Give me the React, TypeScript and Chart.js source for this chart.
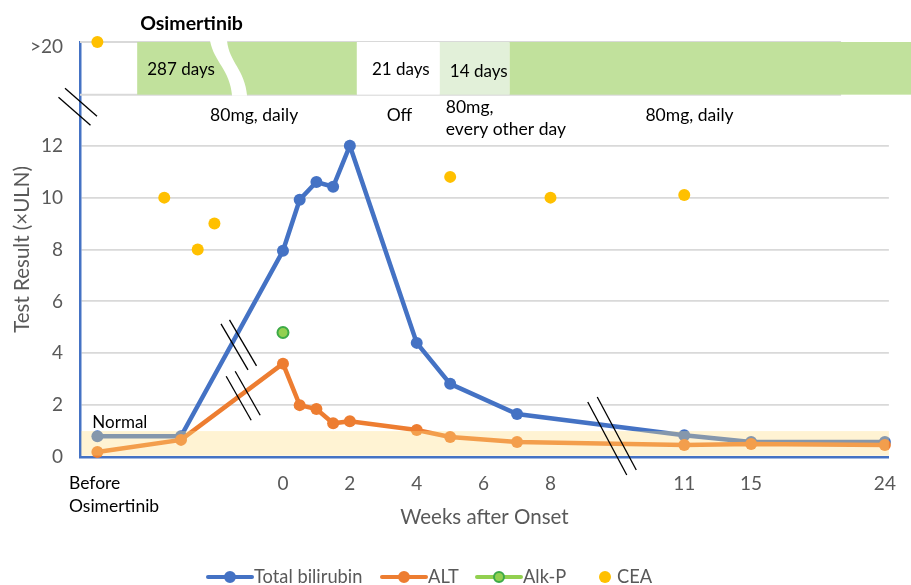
import React, { useEffect, useRef } from "react";
import { Chart, registerables } from "chart.js";

Chart.register(...registerables);

const FONT = "Lato, 'Open Sans', sans-serif";
const TEXT_GRAY = "#595959";
const BLUE = "#4472C4";
const ORANGE = "#ED7D31";
const GREEN = "#92D050";
const GREEN_EDGE = "#3DAA47";
const GOLD = "#FFC000";
const BAND_GREEN = "#C1E19C";
const BAND_LIGHT = "#E2F0D9";

// ---- Axis definition (broken x axis: week labels and their slots) ----
const weekTicks = [0, 2, 4, 6, 8, 11, 15, 24];
const weekSlots = [0, 2, 4, 6, 8, 12, 14, 18];
const BEFORE = -5.55; // slot of "Before Osimertinib"
const X_MIN = -6.07;
const X_MAX = 18.12;

const yTicks = [0, 2, 4, 6, 8, 10, 12];
const OVER20 = 15.8; // row of the ">20" label above the y-axis break
const Y_MAX = 16;

function weekToSlot(w: number): number {
  if (w <= weekTicks[0]) return w; // pre-onset part is placed directly
  for (let i = 1; i < weekTicks.length; i++) {
    if (w <= weekTicks[i]) {
      const t = (w - weekTicks[i - 1]) / (weekTicks[i] - weekTicks[i - 1]);
      return weekSlots[i - 1] + t * (weekSlots[i] - weekSlots[i - 1]);
    }
  }
  return weekSlots[weekSlots.length - 1];
}

// ---- Series ----
const labWeeks = [BEFORE, -3.05, 0, 0.5, 1, 1.5, 2, 4, 5, 7, 11, 15, 24];
const bilirubin = [0.8, 0.8, 7.95, 9.92, 10.6, 10.42, 12.0, 4.4, 2.82, 1.66, 0.84, 0.58, 0.58];
const alt = [0.19, 0.66, 3.6, 2.0, 1.85, 1.3, 1.38, 1.04, 0.77, 0.58, 0.46, 0.5, 0.46];
const alkPWeeks = [0];
const alkP = [4.8];
const ceaWeeks = [BEFORE, -3.55, -2.55, -2.05, 5, 8, 11];
const cea = [16, 10.0, 8.0, 9.0, 10.8, 10.0, 10.1]; // 16 = ">20" row

// ---- Treatment timeline (top band) ----
const BAND_TOP = 16;
const BAND_BOTTOM = 13.97;
const spanFrom = [-4.36, 2.21, 4.69, 6.78];
const spanTo = [2.21, 4.69, 6.78, 19.0];
const spanFill = [BAND_GREEN, "#FFFFFF", BAND_LIGHT, BAND_GREEN];
const spanText = ["287 days", "21 days", "14 days", ""];
const spanTextX = [-4.06, 2.66, 4.99, 0];
const doseX = [-2.18, 3.1, 4.87, 10.84];
const doseText = [["80mg, daily"], ["Off"], ["80mg,", "every other day"], ["80mg, daily"]];
const NORMAL_ULN = 1;

const pts = (xs: number[], ys: number[]) => xs.map((w, i) => ({ x: weekToSlot(w), y: ys[i] }));

function slash(ctx: CanvasRenderingContext2D, cx: number, cy: number, dx: number, dy: number) {
  ctx.beginPath();
  ctx.moveTo(cx - dx, cy - dy);
  ctx.lineTo(cx + dx, cy + dy);
  ctx.stroke();
}

const decorPlugin = {
  id: "decor",
  beforeDatasetsDraw(chart: any) {
    const { ctx, chartArea } = chart;
    const xs = chart.scales.x;
    const ys = chart.scales.y;
    const top = ys.getPixelForValue(BAND_TOP);
    const bot = ys.getPixelForValue(BAND_BOTTOM);
    ctx.save();
    // gray frame lines of the band
    ctx.strokeStyle = "#D9D9D9";
    ctx.lineWidth = 2;
    ctx.beginPath();
    ctx.moveTo(chartArea.left, top);
    ctx.lineTo(xs.getPixelForValue(16.69), top);
    ctx.moveTo(chartArea.left, bot);
    ctx.lineTo(xs.getPixelForValue(16.69), bot);
    ctx.stroke();
    for (let i = 0; i < spanFrom.length; i++) {
      ctx.fillStyle = spanFill[i];
      const a = xs.getPixelForValue(spanFrom[i]);
      const b = Math.min(xs.getPixelForValue(spanTo[i]), chart.width);
      ctx.fillRect(a, top, b - a, bot - top);
    }
    // wavy cut in the first span
    const c = xs.getPixelForValue(-2.18);
    ctx.fillStyle = "#FFFFFF";
    ctx.beginPath();
    ctx.moveTo(c, top - 1);
    ctx.bezierCurveTo(c + 4, top + 20, c + 20, top + 28, c + 22, bot + 1);
    ctx.lineTo(c + 37, bot + 1);
    ctx.bezierCurveTo(c + 35, top + 28, c + 19, top + 20, c + 17, top - 1);
    ctx.closePath();
    ctx.fill();
    // texts
    ctx.fillStyle = "#000000";
    ctx.textBaseline = "middle";
    ctx.textAlign = "left";
    ctx.font = `bold 19.5px ${FONT}`;
    ctx.fillText("Osimertinib", xs.getPixelForValue(-4.27), ys.getPixelForValue(16.7));
    ctx.font = `17px ${FONT}`;
    for (let i = 0; i < spanText.length; i++) {
      if (!spanText[i]) continue;
      ctx.fillText(spanText[i], xs.getPixelForValue(spanTextX[i]), ys.getPixelForValue(i === 2 ? 14.86 : 14.94));
    }
    ctx.font = `17.5px ${FONT}`;
    for (let i = 0; i < doseText.length; i++) {
      const lines = doseText[i];
      const y0 = lines.length > 1 ? 13.47 : 13.17;
      lines.forEach((t, j) => {
        ctx.fillText(t, xs.getPixelForValue(doseX[i]), ys.getPixelForValue(y0 - j * 0.84));
      });
    }
    // "Normal" label
    ctx.font = `17px ${FONT}`;
    ctx.fillText("Normal", xs.getPixelForValue(-5.7), ys.getPixelForValue(1.33));
    // "Before / Osimertinib" tick label
    ctx.font = `17.5px ${FONT}`;
    ctx.fillText("Before", xs.getPixelForValue(-6.4), ys.getPixelForValue(0) + 26);
    ctx.fillText("Osimertinib", xs.getPixelForValue(-6.4), ys.getPixelForValue(0) + 49);
    // white gap of the x-axis break (under the series)
    const bx = xs.getPixelForValue(9.84);
    const by = ys.getPixelForValue(0.81);
    ctx.fillStyle = "#FFFFFF";
    ctx.beginPath();
    ctx.moveTo(bx - 24, by - 34);
    ctx.lineTo(bx - 14, by - 39);
    ctx.lineTo(bx + 15, by + 17);
    ctx.lineTo(bx + 5, by + 19);
    ctx.closePath();
    ctx.fill();
    ctx.restore();
  },
  afterDatasetsDraw(chart: any) {
    const { ctx, chartArea } = chart;
    const xs = chart.scales.x;
    const ys = chart.scales.y;
    ctx.save();
    // normal range band, laid over the series
    const y1 = ys.getPixelForValue(NORMAL_ULN);
    const y0 = ys.getPixelForValue(0) - 1.3;
    ctx.fillStyle = "rgba(255,221,128,0.35)";
    ctx.fillRect(chartArea.left + 1.3, y1, chartArea.right - chartArea.left - 1.3, y0 - y1);

    ctx.strokeStyle = "#000000";
    ctx.lineWidth = 1.3;
    // y-axis break
    const ax = chartArea.left;
    const ay = ys.getPixelForValue(13.5);
    slash(ctx, ax + 1, ay - 4.5, 16, 14);
    slash(ctx, ax - 5.5, ay + 4.5, 16, 14);
    // series breaks
    const b1x = xs.getPixelForValue(-1.33), b1y = ys.getPixelForValue(4.32);
    slash(ctx, b1x - 4, b1y + 2, 13.5, 23);
    slash(ctx, b1x + 4.5, b1y - 2, 13.5, 23);
    const b2x = xs.getPixelForValue(-1.19), b2y = ys.getPixelForValue(2.36);
    slash(ctx, b2x - 4.5, b2y + 2.5, 12.5, 22);
    slash(ctx, b2x + 4.5, b2y - 2.5, 12.5, 22);
    // x-axis break
    const bx = xs.getPixelForValue(9.84);
    const by = ys.getPixelForValue(0.81);
    slash(ctx, bx - 4.75, by + 2.5, 19.5, 36.5);
    slash(ctx, bx + 4.75, by - 2.5, 19.5, 36.5);

    // legend
    const ly = 577;
    ctx.font = `18.3px ${FONT}`;
    ctx.textBaseline = "middle";
    ctx.textAlign = "left";
    const items = [
      { x: 208, line: BLUE, fill: BLUE, edge: BLUE, text: "Total bilirubin" },
      { x: 382, line: ORANGE, fill: ORANGE, edge: ORANGE, text: "ALT" },
      { x: 477, line: GREEN, fill: GREEN, edge: GREEN_EDGE, text: "Alk-P" },
    ];
    items.forEach((it) => {
      ctx.strokeStyle = it.line;
      ctx.lineWidth = 4;
      ctx.lineCap = "round";
      ctx.beginPath();
      ctx.moveTo(it.x, ly);
      ctx.lineTo(it.x + 44, ly);
      ctx.stroke();
      ctx.fillStyle = it.fill;
      ctx.strokeStyle = it.edge;
      ctx.lineWidth = 2;
      ctx.beginPath();
      ctx.arc(it.x + 22, ly, 5, 0, Math.PI * 2);
      ctx.fill();
      ctx.stroke();
      ctx.fillStyle = TEXT_GRAY;
      ctx.fillText(it.text, it.x + 46, ly);
    });
    ctx.fillStyle = GOLD;
    ctx.beginPath();
    ctx.arc(605, ly, 6, 0, Math.PI * 2);
    ctx.fill();
    ctx.fillStyle = TEXT_GRAY;
    ctx.fillText("CEA", 617, ly);
    ctx.restore();
  },
};

export default function App() {
  const ref = useRef<HTMLCanvasElement | null>(null);
  useEffect(() => {
    if (!ref.current) return;
    const chart = new Chart(ref.current, {
      type: "line",
      data: {
        datasets: [
          {
            label: "Alk-P",
            data: pts(alkPWeeks, alkP),
            showLine: false,
            pointRadius: 5.5,
            pointBackgroundColor: GREEN,
            pointBorderColor: GREEN_EDGE,
            pointBorderWidth: 2,
            order: 0,
          },
          {
            label: "CEA",
            data: pts(ceaWeeks, cea),
            showLine: false,
            pointRadius: 6,
            pointBackgroundColor: GOLD,
            pointBorderColor: GOLD,
            pointBorderWidth: 0,
            clip: false,
            order: 0,
          },
          {
            label: "ALT",
            data: pts(labWeeks, alt),
            borderColor: ORANGE,
            borderWidth: 4.5,
            pointRadius: 6,
            pointBackgroundColor: ORANGE,
            pointBorderColor: ORANGE,
            pointBorderWidth: 0,
            tension: 0,
            clip: false,
            order: 1,
          },
          {
            label: "Total bilirubin",
            data: pts(labWeeks, bilirubin),
            borderColor: BLUE,
            borderWidth: 4.5,
            pointRadius: 6,
            pointBackgroundColor: BLUE,
            pointBorderColor: BLUE,
            pointBorderWidth: 0,
            tension: 0,
            clip: false,
            order: 2,
          },
        ],
      },
      options: {
        animation: false,
        responsive: false,
        maintainAspectRatio: false,
        layout: { padding: { top: 42, right: 21, left: 0, bottom: 0 } },
        plugins: { legend: { display: false }, tooltip: { enabled: false } },
        scales: {
          x: {
            type: "linear",
            min: X_MIN,
            max: X_MAX,
            afterFit: (s: any) => {
              s.height = 128;
            },
            afterBuildTicks: (s: any) => {
              s.ticks = weekSlots.map((v) => ({ value: v }));
            },
            ticks: {
              callback: (_v: any, i: number) => String(weekTicks[i]),
              color: TEXT_GRAY,
              font: { family: FONT, size: 19 },
              padding: 15,
              autoSkip: false,
              maxRotation: 0,
            },
            grid: { display: false, drawTicks: false },
            border: { color: BLUE, width: 2.5 },
            title: {
              display: true,
              text: "Weeks after Onset",
              color: TEXT_GRAY,
              font: { family: FONT, size: 20.5 },
              padding: { top: 0, bottom: 55 },
            },
          },
          y: {
            min: 0,
            max: Y_MAX,
            afterFit: (s: any) => {
              s.width = 80;
            },
            afterBuildTicks: (s: any) => {
              s.ticks = [...yTicks, OVER20].map((v) => ({ value: v }));
            },
            ticks: {
              callback: (v: any) => (Math.abs(v - OVER20) < 1e-6 ? ">20" : String(v)),
              color: TEXT_GRAY,
              font: { family: FONT, size: 19 },
              padding: 17,
            },
            grid: {
              color: (c: any) => (c.tick && c.tick.value > 0 && c.tick.value <= 12 ? "#D9D9D9" : "rgba(0,0,0,0)"),
              lineWidth: 1.8,
              drawTicks: false,
            },
            border: { color: BLUE, width: 2.5 },
            title: {
              display: true,
              text: "Test Result (×ULN)",
              color: TEXT_GRAY,
              font: { family: FONT, size: 20.5 },
              padding: { top: 10, bottom: 0 },
            },
          },
        },
      } as any,
      plugins: [decorPlugin],
    });
    return () => chart.destroy();
  }, []);
  return (
    <div style={{ position: "absolute", left: 0, top: 0, width: 911, height: 585, background: "#fff" }}>
      <canvas ref={ref} width={911} height={585} style={{ display: "block" }} />
    </div>
  );
}
